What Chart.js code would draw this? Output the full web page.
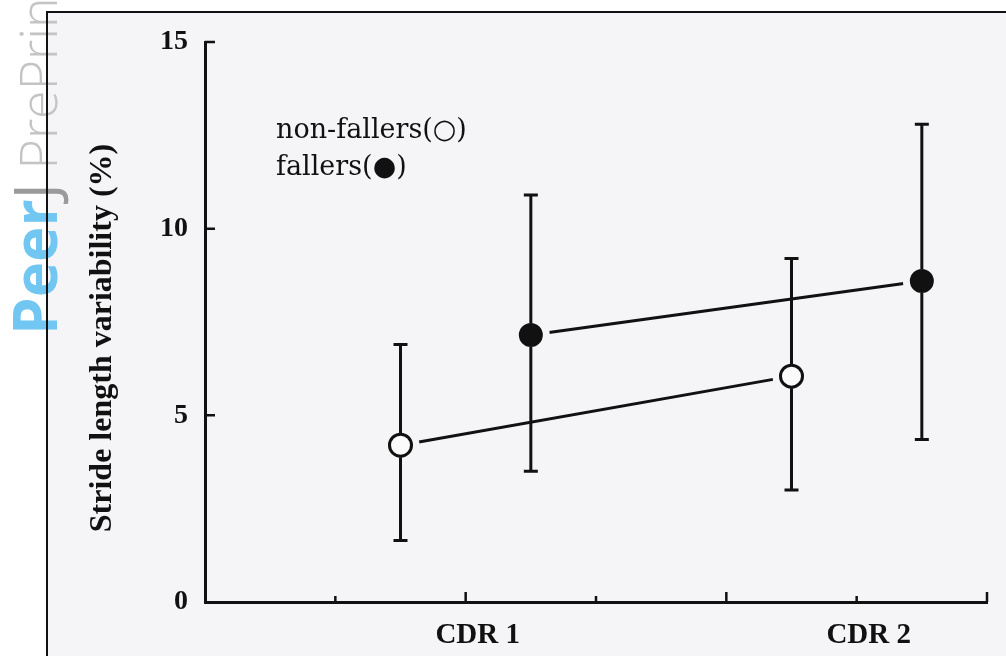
<!DOCTYPE html>
<html>
<head>
<meta charset="utf-8">
<script src="https://cdn.jsdelivr.net/npm/chart.js@4.4.0/dist/chart.umd.min.js"></script>
<style>
  html, body { margin: 0; padding: 0; background: #fff; }
  #wrap { position: relative; width: 1006px; height: 656px; overflow: hidden; }
  #paper { position: absolute; left: 46px; top: 11px; right: 0; bottom: 0; background: #f5f4f7; }
  #mark { position: absolute; left: 4px; top: 335px; transform: rotate(-90deg); transform-origin: 0 0;
          font-family: "Open Sans", sans-serif; font-size: 60px; line-height: 60px; white-space: nowrap; }
  #mark .p { color: #72c7f2; font-weight: 700; }
  #mark .j { color: #9a9a9a; font-weight: 400; }
  #mark .pp { color: #c4c4c4; font-weight: 300; font-size: 52px; }
  #frame { position: absolute; left: 46px; top: 11px; right: 0; bottom: 0; border-left: 2px solid #111; border-top: 2px solid #111; }
  canvas { position: absolute; left: 0; top: 0; }
</style>
</head>
<body>
<div id="wrap">
  <div id="paper"></div>
  <div id="mark"><span class="p">Peer</span><span class="j">J</span><span class="pp"> PrePrints</span></div>
  <div id="frame"></div>
  <canvas id="chart" width="1006" height="656"></canvas>
</div>
<script>
// Data
const categories = ['CDR 1', 'CDR 2'];
const yTicks = [0, 5, 10, 15];
const xTickLong = [2, 4, 6];
const xTickShort = [1, 3, 5];

const nonFallersMean = [4.2, 6.05];
const nonFallersLow = [1.65, 3.0];
const nonFallersHigh = [6.9, 9.2];

const fallersMean = [7.15, 8.6];
const fallersLow = [3.5, 4.35];
const fallersHigh = [10.9, 12.8];

const legendLines = ['non-fallers(\u25CB)', 'fallers(\u25CF)'];

const ink = '#111';
const paper = '#f5f4f7';

// category i sits at 2 + 3i on the x axis, groups offset either side
const catPos = categories.map((c, i) => 2 + 3 * i);
const nonPos = catPos.map(p => p - 0.5);
const fallPos = catPos.map(p => p + 0.5);

function pts(xs, ys) {
    return xs.map((x, i) => ({x: x, y: ys[i]}));
}

const groups = [
    {pos: nonPos, mean: nonFallersMean, low: nonFallersLow, high: nonFallersHigh},
    {pos: fallPos, mean: fallersMean, low: fallersLow, high: fallersHigh}
];

const markerR = 11;

// error bars, drawn after the markers so they stay unbroken up to the circle
const errorBars = {
    id: 'errorBars',
    afterDatasetsDraw(chart) {
        const {ctx, scales: {x, y}} = chart;
        ctx.save();
        ctx.strokeStyle = ink;
        ctx.lineWidth = 3;
        groups.forEach(g => {
            g.mean.forEach((m, i) => {
                const px = x.getPixelForValue(g.pos[i]);
                const pm = y.getPixelForValue(m);
                const pl = y.getPixelForValue(g.low[i]);
                const ph = y.getPixelForValue(g.high[i]);
                ctx.beginPath();
                ctx.moveTo(px, ph); ctx.lineTo(px, pm - markerR - 1);
                ctx.moveTo(px, pm + markerR + 1); ctx.lineTo(px, pl);
                ctx.moveTo(px - 7, ph); ctx.lineTo(px + 7, ph);
                ctx.moveTo(px - 7, pl); ctx.lineTo(px + 7, pl);
                ctx.stroke();
            });
        });
        ctx.restore();
    }
};

// inward tick marks and the legend text
const decor = {
    id: 'decor',
    afterDraw(chart) {
        const {ctx, chartArea: a, scales: {x, y}} = chart;
        ctx.save();
        ctx.strokeStyle = ink;
        ctx.lineWidth = 2.5;
        ctx.beginPath();
        yTicks.filter(v => v > 0).forEach(v => {
            const py = y.getPixelForValue(v);
            ctx.moveTo(a.left, py); ctx.lineTo(a.left + 10, py);
        });
        xTickLong.forEach(v => {
            const px = x.getPixelForValue(v);
            ctx.moveTo(px, a.bottom); ctx.lineTo(px, a.bottom - 10);
        });
        xTickShort.forEach(v => {
            const px = x.getPixelForValue(v);
            ctx.moveTo(px, a.bottom); ctx.lineTo(px, a.bottom - 6);
        });
        ctx.stroke();

        ctx.fillStyle = ink;
        ctx.font = '27px "DejaVu Serif", serif';
        ctx.textBaseline = 'alphabetic';
        legendLines.forEach((t, i) => {
            ctx.fillText(t, a.left + 71, a.top + 96 + i * 37);
        });
        ctx.restore();
    }
};

const ctx = document.getElementById('chart').getContext('2d');
new Chart(ctx, {
    type: 'scatter',
    data: {
        datasets: [
            // connecting lines; the paper-coloured points leave the gap round each marker
            {data: pts(nonPos, nonFallersMean), showLine: true, borderColor: ink, borderWidth: 3,
             pointRadius: 19, pointBackgroundColor: paper, pointBorderWidth: 0, order: 2},
            {data: pts(fallPos, fallersMean), showLine: true, borderColor: ink, borderWidth: 3,
             pointRadius: 19, pointBackgroundColor: paper, pointBorderWidth: 0, order: 2},
            // markers
            {data: pts(nonPos, nonFallersMean), pointRadius: markerR, pointBackgroundColor: '#fbfbfb',
             pointBorderColor: ink, pointBorderWidth: 3, order: 1},
            {data: pts(fallPos, fallersMean), pointRadius: markerR, pointBackgroundColor: ink,
             pointBorderColor: ink, pointBorderWidth: 2, order: 1}
        ]
    },
    options: {
        responsive: false,
        animation: false,
        events: [],
        layout: {padding: {top: 42, right: 18, left: 0, bottom: 0}},
        plugins: {legend: {display: false}, tooltip: {enabled: false}},
        scales: {
            x: {
                type: 'linear',
                min: 0,
                max: 6,
                afterFit: s => { s.height = 54; },
                afterBuildTicks: s => { s.ticks = [0, 1, 2, 3, 4, 5, 6].map(v => ({value: v})); },
                ticks: {
                    autoSkip: false,
                    maxRotation: 0,
                    padding: 16,
                    labelOffset: 12,
                    color: ink,
                    font: {family: '"Liberation Serif", serif', size: 29, weight: 'bold'},
                    callback: v => {
                        const i = catPos.indexOf(v);
                        return i >= 0 ? categories[i] : '';
                    }
                },
                grid: {display: false, drawTicks: false},
                border: {display: true, color: ink, width: 3}
            },
            y: {
                min: 0,
                max: 15,
                afterFit: s => { s.width = 205; },
                afterBuildTicks: s => { s.ticks = yTicks.map(v => ({value: v})); },
                ticks: {
                    padding: 17,
                    color: ink,
                    font: {family: '"Liberation Serif", serif', size: 28, weight: 'bold'}
                },
                grid: {display: false, drawTicks: false},
                border: {display: true, color: ink, width: 3},
                title: {
                    display: true,
                    text: 'Stride length variability (%)\u00a0\u00a0\u00a0\u00a0',
                    color: ink,
                    padding: {top: 84, bottom: 0},
                    font: {family: '"Liberation Serif", serif', size: 32, weight: 'bold'}
                }
            }
        }
    },
    plugins: [errorBars, decor]
});
</script>
</body>
</html>
